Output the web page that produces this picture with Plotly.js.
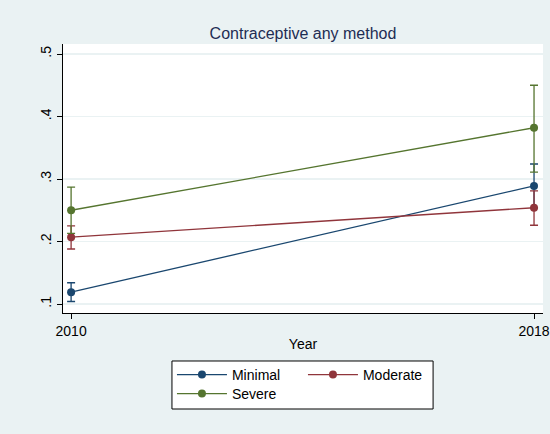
<!DOCTYPE html>
<html>
<head>
<meta charset="utf-8">
<script src="https://cdn.plot.ly/plotly-3.0.1.min.js"></script>
<style>html,body{margin:0;padding:0;background:#eaf2f3;}#chart{width:550px;height:434px;}</style>
</head>
<body>
<div id="chart"></div>
<script>
// Data
var years = [2010, 2018];
var minimalVal = [0.119, 0.289];
var minimalLo  = [0.104, 0.254];
var minimalHi  = [0.134, 0.324];
var moderateVal = [0.207, 0.254];
var moderateLo  = [0.188, 0.226];
var moderateHi  = [0.225, 0.281];
var severeVal = [0.250, 0.382];
var severeLo  = [0.213, 0.311];
var severeHi  = [0.287, 0.450];
var yTickVals = [0.1, 0.2, 0.3, 0.4, 0.5];
var yTickText = ['.1', '.2', '.3', '.4', '.5'];
var xTickVals = [2010, 2018];

function mk(name, val, lo, hi, color, legend) {
  return {
    x: years, y: val, name: name, type: 'scatter', mode: 'lines+markers',
    line: {color: color, width: 1.3},
    marker: {color: color, size: 8},
    legend: legend,
    error_y: {
      type: 'data', symmetric: false,
      array: hi.map(function(h, i){ return h - val[i]; }),
      arrayminus: lo.map(function(l, i){ return val[i] - l; }),
      color: color, thickness: 1.3, width: 4
    }
  };
}

var data = [
  mk('Minimal', minimalVal, minimalLo, minimalHi, '#1a476f', 'legend'),
  mk('Moderate', moderateVal, moderateLo, moderateHi, '#90353b', 'legend'),
  mk('Severe', severeVal, severeLo, severeHi, '#55752f', 'legend2')
];

var font = 'Liberation Sans, Arial, sans-serif';
var layout = {
  width: 550, height: 434,
  paper_bgcolor: '#eaf2f3', plot_bgcolor: '#ffffff',
  margin: {l: 63, r: 7, t: 44, b: 121},
  font: {family: font, size: 14, color: '#000000'},
  title: {text: 'Contraceptive any method', font: {family: font, size: 16, color: '#1e2d53'},
          x: 0.5, xanchor: 'center', y: 0.922, yanchor: 'middle', xref: 'paper'},
  xaxis: {
    range: [2009.86, 2018.155], tickvals: xTickVals, ticktext: xTickVals.map(String),
    showgrid: false, zeroline: false, showline: true, linecolor: '#000000', linewidth: 1,
    ticks: 'outside', ticklen: 5, tickcolor: '#000000',
    title: {text: 'Year', font: {family: font, size: 14}, standoff: 1},
    tickfont: {family: font, size: 14}
  },
  yaxis: {
    range: [0.0856, 0.516], tickvals: yTickVals, ticktext: yTickText, tickangle: -90,
    showgrid: true, gridcolor: '#eaf2f3', gridwidth: 1.5, zeroline: false,
    showline: true, linecolor: '#000000', linewidth: 1,
    ticks: 'outside', ticklen: 5, tickcolor: '#000000',
    tickfont: {family: font, size: 14}
  },
  showlegend: true,
  legend: {orientation: 'h', x: 0.227, xanchor: 'left', y: -0.2305, yanchor: 'middle',
           bgcolor: 'rgba(0,0,0,0)', borderwidth: 0, itemwidth: 50, entrywidth: 66,
           font: {family: font, size: 14}},
  legend2: {orientation: 'h', x: 0.227, xanchor: 'left', y: -0.3011, yanchor: 'middle',
           bgcolor: 'rgba(0,0,0,0)', borderwidth: 0, itemwidth: 50,
           font: {family: font, size: 14}},
  shapes: [{type: 'rect', xref: 'paper', yref: 'paper', x0: 0.227, x1: 0.771, y0: -0.3569, y1: -0.1784,
            line: {color: '#000000', width: 1}, fillcolor: '#ffffff', layer: 'below'}]
};

Plotly.newPlot('chart', data, layout, {displayModeBar: false, staticPlot: true});
</script>
</body>
</html>
